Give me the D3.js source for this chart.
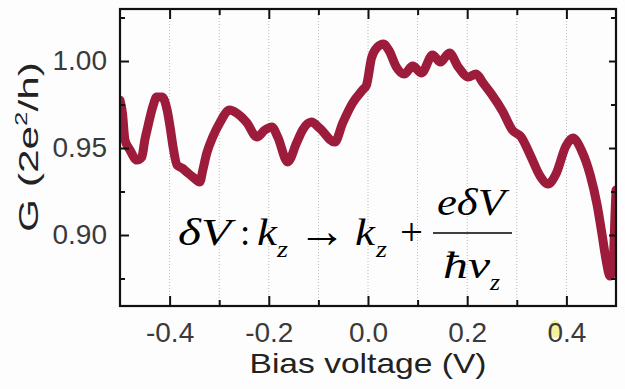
<!DOCTYPE html>
<html>
<head>
<meta charset="utf-8">
<script src="https://cdn.jsdelivr.net/npm/d3@7"></script>
<style>
  html, body { margin: 0; padding: 0; background: #fdfdfd; }
  svg { display: block; }
</style>
</head>
<body>
<svg id="chart" width="625" height="389"></svg>
<script>
// ---- data ----
const biasV = [
  -0.500, -0.495, -0.490, -0.480, -0.466, -0.456, -0.450, -0.444, -0.434, -0.426,
  -0.415, -0.405, -0.399, -0.393, -0.385, -0.375, -0.363, -0.353, -0.339, -0.333,
  -0.325, -0.313, -0.299, -0.279, -0.265, -0.244, -0.224, -0.208, -0.194, -0.182,
  -0.162, -0.144, -0.132, -0.114, -0.098, -0.067, -0.051, -0.031, -0.011, -0.003,
   0.007,  0.019,  0.031,  0.043,  0.057,  0.073,  0.090,  0.108,  0.130,  0.146,
   0.164,  0.182,  0.202,  0.218,  0.232,  0.249,  0.271,  0.291,  0.309,  0.327,
   0.347,  0.363,  0.379,  0.399,  0.413,  0.430,  0.448,  0.462,  0.472,  0.480,
   0.488,  0.494,  0.498,  0.500
];
const conductance = [
  0.9775, 0.9700, 0.9546, 0.9489, 0.9431, 0.9448, 0.9546, 0.9621, 0.9736, 0.9793,
  0.9793, 0.9718, 0.9621, 0.9506, 0.9402, 0.9385, 0.9356, 0.9333, 0.9305, 0.9374,
  0.9471, 0.9563, 0.9644, 0.9718, 0.9701, 0.9644, 0.9563, 0.9603, 0.9621, 0.9563,
  0.9420, 0.9529, 0.9603, 0.9649, 0.9615, 0.9534, 0.9644, 0.9759, 0.9833, 0.9862,
  1.0017, 1.0080, 1.0098, 1.0057, 0.9966, 0.9925, 0.9971, 0.9931, 1.0034, 0.9994,
  1.0046, 0.9966, 0.9908, 0.9925, 0.9874, 0.9810, 0.9713, 0.9603, 0.9563, 0.9460,
  0.9339, 0.9293, 0.9351, 0.9511, 0.9557, 0.9489, 0.9345, 0.9172, 0.9000, 0.8856,
  0.8764, 0.8828, 0.9115, 0.9259
];
const xMajorTicks = [-0.4, -0.2, 0.0, 0.2, 0.4];
const xMinorTicks = [-0.3, -0.1, 0.1, 0.3];
const gridTicks = [-0.4, -0.3, -0.2, -0.1, 0.0, 0.1, 0.2, 0.3, 0.4];
const yMajorTicks = [0.90, 0.95, 1.00];
const yMinorTicks = [0.875, 0.925, 0.975, 1.025];
const xDomain = [-0.5, 0.5];
const yDomain = [0.8592, 1.0299];
const xTitle = "Bias voltage (V)";

// ---- layout ----
const L = 120, R = 616, T = 9, B = 306;
const svg = d3.select("#chart");
const x = d3.scaleLinear().domain(xDomain).range([L, R]);
const y = d3.scaleLinear().domain(yDomain).range([B, T]);
const fmt = v => v.toFixed(2);
const fmtX = v => v.toFixed(1);
const tickFont = "'Liberation Sans', Arial, sans-serif";

svg.append("rect").attr("width", 625).attr("height", 389).attr("fill", "#fdfdfd");

// grid (dotted verticals)
svg.append("g").selectAll("line").data(gridTicks).join("line")
  .attr("x1", d => x(d)).attr("x2", d => x(d))
  .attr("y1", T).attr("y2", B)
  .attr("stroke", "#b8b8b8").attr("stroke-width", 1)
  .attr("stroke-dasharray", "1,2");

// clip
svg.append("clipPath").attr("id", "clip").append("rect")
  .attr("x", L).attr("y", T).attr("width", R - L).attr("height", B - T);

// curve
const pts = biasV.map((v, i) => [v, conductance[i]]);
const line = d3.line().x(d => x(d[0])).y(d => y(d[1])).curve(d3.curveMonotoneX);
svg.append("path").datum(pts)
  .attr("clip-path", "url(#clip)")
  .attr("d", line)
  .attr("fill", "none")
  .attr("stroke", "#9d1c3b")
  .attr("stroke-width", 9)
  .attr("stroke-linejoin", "round")
  .attr("stroke-linecap", "round");

function styleAxis(g) {
  g.select(".domain").remove();
  g.selectAll(".tick line").attr("stroke", "#111").attr("stroke-width", 2);
  g.selectAll("text").attr("font-family", tickFont).attr("font-size", 28).attr("fill", "#3a3a3a");
}

// bottom
const gB = svg.append("g").attr("transform", `translate(0,${B})`);
gB.append("g").call(d3.axisBottom(x).tickValues(xMajorTicks).tickFormat(fmtX).tickSize(-10).tickPadding(16)).call(styleAxis);
gB.append("g").call(d3.axisBottom(x).tickValues(xMinorTicks).tickFormat("").tickSize(-6)).call(styleAxis);
// top
const gT = svg.append("g").attr("transform", `translate(0,${T})`);
gT.append("g").call(d3.axisTop(x).tickValues(xMajorTicks).tickFormat("").tickSize(-10)).call(styleAxis);
gT.append("g").call(d3.axisTop(x).tickValues(xMinorTicks).tickFormat("").tickSize(-6)).call(styleAxis);
// left
const gL = svg.append("g").attr("transform", `translate(${L},0)`);
gL.append("g").call(d3.axisLeft(y).tickValues(yMajorTicks).tickFormat(fmt).tickSize(-9).tickPadding(13)).call(styleAxis);
gL.append("g").call(d3.axisLeft(y).tickValues(yMinorTicks).tickFormat("").tickSize(-5)).call(styleAxis);
// right
const gR = svg.append("g").attr("transform", `translate(${R},0)`);
gR.append("g").call(d3.axisRight(y).tickValues(yMajorTicks).tickFormat("").tickSize(-7)).call(styleAxis);
gR.append("g").call(d3.axisRight(y).tickValues(yMinorTicks).tickFormat("").tickSize(-5)).call(styleAxis);

// frame
svg.append("rect").attr("x", L).attr("y", T).attr("width", R - L).attr("height", B - T)
  .attr("fill", "none").attr("stroke", "#111").attr("stroke-width", 2.2);

// yellow highlight behind the "0" of 0.4
const lbl04 = gB.selectAll(".tick").filter(d => Math.abs(d - 0.4) < 1e-9);
lbl04.insert("ellipse", "text")
  .attr("cx", -12).attr("cy", 23).attr("rx", 5.5).attr("ry", 9)
  .attr("fill", "#f4f09c");

// axis titles
svg.append("text")
  .attr("x", x(0)).attr("y", 373)
  .attr("text-anchor", "middle")
  .attr("font-family", tickFont).attr("font-size", 28).attr("fill", "#222")
  .attr("textLength", 237).attr("lengthAdjust", "spacingAndGlyphs")
  .text(xTitle);

const yt = svg.append("text")
  .attr("transform", "translate(38,147) rotate(-90)")
  .attr("text-anchor", "middle")
  .attr("font-family", tickFont).attr("font-size", 28).attr("fill", "#222")
  .attr("textLength", 170).attr("lengthAdjust", "spacingAndGlyphs");
yt.append("tspan").text("G (2e");
yt.append("tspan").attr("font-size", 17).attr("dy", -11).text("2");
yt.append("tspan").attr("dy", 11).text("/h)");

// equation
const serif = "'Liberation Serif', 'Times New Roman', serif";
const eq = svg.append("g").attr("font-family", serif).attr("fill", "#000");
function piece(t, px, py, size, w, italic) {
  const e = eq.append("text").attr("x", px).attr("y", py)
    .attr("font-size", size).attr("font-style", italic ? "italic" : "normal").text(t);
  if (w) e.attr("textLength", w).attr("lengthAdjust", "spacingAndGlyphs");
  return e;
}
piece("\u03B4V", 178, 245, 37, 53, true);
piece(":", 240, 245, 37, 0, false);
piece("k", 257, 245, 37, 20, true);
piece("z", 277, 257, 24, 11, true);
piece("\u2192", 298, 247, 48, 48, false);
piece("k", 355, 245, 37, 20, true);
piece("z", 376, 257, 24, 11, true);
piece("+", 400, 245, 37, 23, false);
piece("e\u03B4V", 437, 215, 37, 68, true);
eq.append("line").attr("x1", 433).attr("x2", 512).attr("y1", 233).attr("y2", 233)
  .attr("stroke", "#000").attr("stroke-width", 1.6);
piece("\u0127v", 443, 278, 37, 47, true);
piece("z", 490, 290, 24, 10, true);
</script>
</body>
</html>
